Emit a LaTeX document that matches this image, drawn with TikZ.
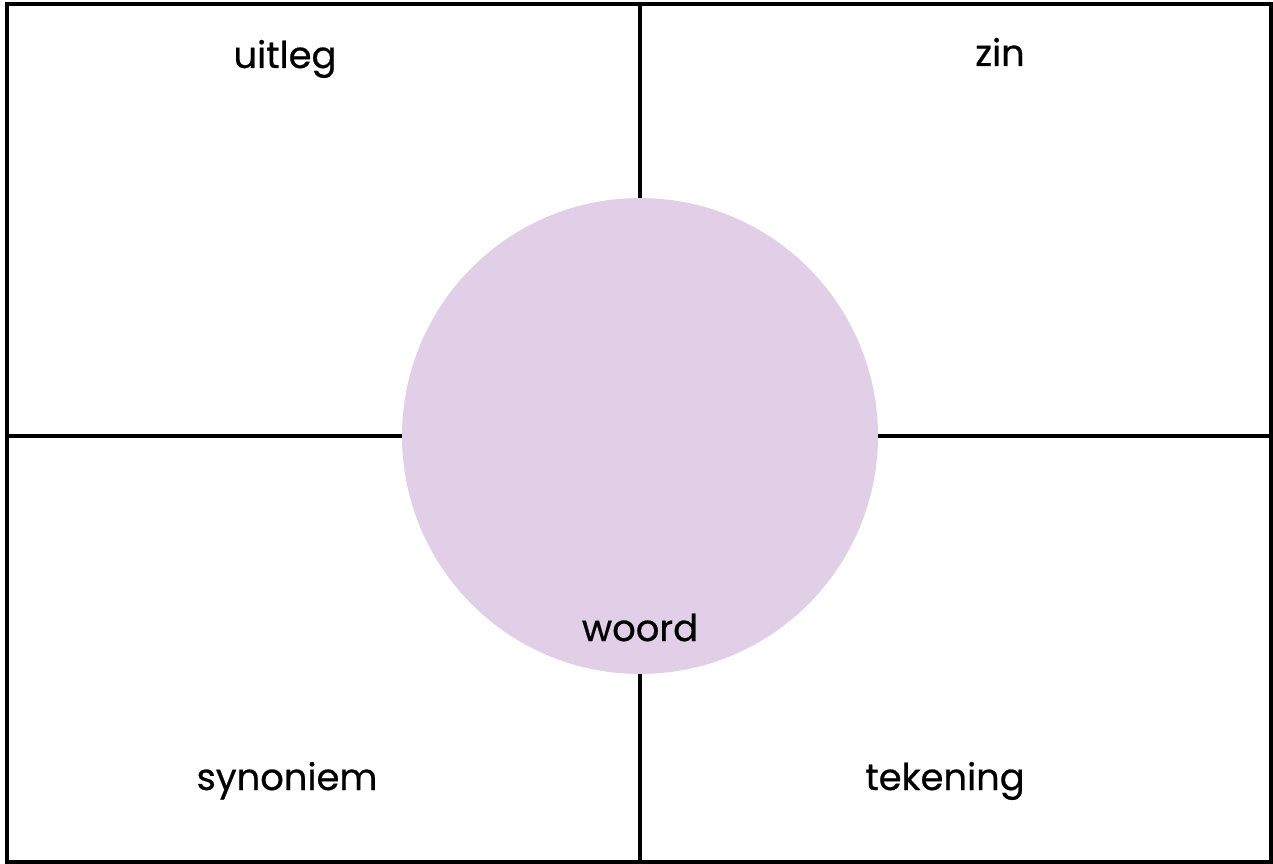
\documentclass[tikz,border=0pt]{standalone}
\usepackage{fontspec}
\setmainfont{Poppins}[FakeBold=0.6]
\definecolor{lila}{HTML}{E0CFE6}
\begin{document}
\begin{tikzpicture}[x=0.02cm,y=-0.02cm,font=\fontsize{21}{24}\selectfont,
    lijn/.style={line width=1.8pt,black},
    label/.style={anchor=base}]
    \useasboundingbox (0,0) rectangle (1273,864);
    \draw[lijn] (7,4) rectangle (1271,862);
    \draw[lijn] (640,4) -- (640,862);
    \draw[lijn] (7,436) -- (1271,436);
    \node[circle,fill=lila,minimum size=9.52cm,inner sep=0pt] (cirkel) at (640,436) {};
    \node[label] (uitleg) at (285,68) {uitleg};
    \node[label] (zin) at (1000,66) {zin};
    \node[label] (synoniem) at (287,790) {synoniem};
    \node[label] (tekening) at (945,790) {tekening};
    \node[label] (woord) at (640,641) {woord};
\end{tikzpicture}
\end{document}
